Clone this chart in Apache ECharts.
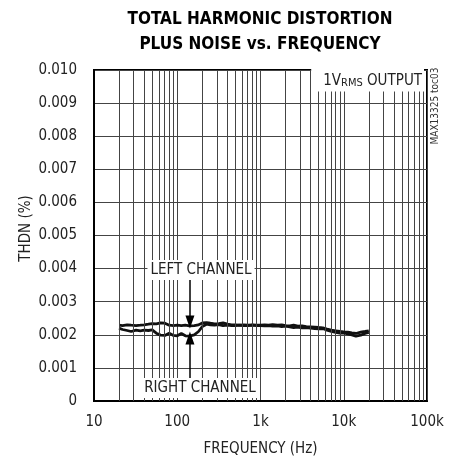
<!DOCTYPE html>
<html>
<head>
<meta charset="UTF-8">
<title>THD+N vs Frequency</title>
<script src="https://cdn.jsdelivr.net/npm/echarts@6/dist/echarts.min.js"></script>
<style>
  html, body { margin: 0; padding: 0; background: #fff; }
  #main { width: 456px; height: 464px; }
</style>
</head>
<body>
<div id="main"></div>
<script>
// frequency points (Hz)
var freqs = [20, 22, 25, 28, 32, 36, 40, 45, 50, 56, 63, 71, 80, 90, 100, 112, 125, 140, 160, 180,
  200, 225, 250, 280, 315, 355, 400, 450, 500, 560, 630, 710, 800, 900, 1000, 1120, 1250, 1400, 1600, 1800,
  2000, 2250, 2500, 2800, 3150, 3550, 4000, 4500, 5000, 5600, 6300, 7100, 8000, 9000, 10000, 11200, 12500, 14000, 16000, 18000, 20000];

// THD+N (%)
var leftChannel = [0.00229, 0.00228, 0.00230, 0.00229, 0.00228, 0.00229, 0.00230, 0.00232, 0.00234, 0.00233,
  0.00236, 0.00235, 0.00229, 0.00228, 0.00229, 0.00228, 0.00229, 0.00227, 0.00228, 0.00230,
  0.00236, 0.00237, 0.00235, 0.00233, 0.00234, 0.00236, 0.00232, 0.00230, 0.00230, 0.00229,
  0.00230, 0.00229, 0.00230, 0.00229, 0.00229, 0.00230, 0.00229, 0.00231, 0.00229, 0.00230,
  0.00228, 0.00227, 0.00229, 0.00226, 0.00227, 0.00225, 0.00224, 0.00223, 0.00222, 0.00221,
  0.00217, 0.00214, 0.00212, 0.00210, 0.00209, 0.00208, 0.00206, 0.00204, 0.00208, 0.00210, 0.00212];

var rightChannel = [0.00220, 0.00216, 0.00213, 0.00210, 0.00214, 0.00212, 0.00214, 0.00213, 0.00215, 0.00205,
  0.00199, 0.00198, 0.00205, 0.00198, 0.00197, 0.00204, 0.00197, 0.00196, 0.00200, 0.00210,
  0.00225, 0.00232, 0.00230, 0.00229, 0.00231, 0.00228, 0.00229, 0.00228, 0.00228, 0.00229,
  0.00228, 0.00228, 0.00229, 0.00228, 0.00228, 0.00227, 0.00228, 0.00226, 0.00227, 0.00225,
  0.00226, 0.00224, 0.00222, 0.00223, 0.00221, 0.00222, 0.00220, 0.00219, 0.00218, 0.00219,
  0.00214, 0.00210, 0.00207, 0.00205, 0.00206, 0.00203, 0.00200, 0.00196, 0.00199, 0.00204, 0.00207];

var xTickLabels = { 10: '10', 100: '100', 1000: '1k', 10000: '10k', 100000: '100k' };
var yTickLabels = ['0', '0.001', '0.002', '0.003', '0.004', '0.005', '0.006', '0.007', '0.008', '0.009', '0.010'];

// minor log grid lines 20..90, 200..900 ...
var minorLines = [20, 30, 40, 50, 60, 70, 80, 90,
  200, 300, 400, 500, 600, 700, 800, 900,
  2000, 3000, 4000, 5000, 6000, 7000, 8000, 9000,
  20000, 30000, 40000, 50000, 60000, 70000, 80000, 90000];

var FONT = "'Liberation Sans Narrow', 'DejaVu Sans Condensed', 'Roboto', sans-serif";

function pairs(xs, ys) {
  var out = [];
  for (var i = 0; i < xs.length; i++) out.push([xs[i], ys[i]]);
  return out;
}

var chart = echarts.init(document.getElementById('main'));
chart.setOption({
  animation: false,
  grid: {
    left: 94, right: 29, top: 70, bottom: 63,
    show: true, borderColor: '#000', borderWidth: 2
  },
  xAxis: {
    type: 'log',
    logBase: 10,
    min: 10,
    max: 100000,
    name: 'FREQUENCY (Hz)',
    nameLocation: 'middle',
    nameGap: 41,
    nameMoveOverlap: false,
    nameTextStyle: { fontFamily: FONT, fontSize: 15, color: '#222' },
    axisLine: { show: true, lineStyle: { color: '#000', width: 2 } },
    axisTick: { show: false },
    axisLabel: {
      fontFamily: FONT, fontSize: 15, color: '#222', margin: 14,
      formatter: function (v) { return xTickLabels[Math.round(v)] || ''; }
    },
    splitLine: { show: true, lineStyle: { color: '#444', width: 1 } }
  },
  yAxis: {
    type: 'value',
    min: 0,
    max: 0.01,
    interval: 0.001,
    name: 'THDN (%)',
    nameLocation: 'middle',
    nameGap: 60,
    nameMoveOverlap: false,
    nameTextStyle: { fontFamily: FONT, fontSize: 15, color: '#222', padding: [0, 0, 0, 14] },
    axisLine: { show: true, lineStyle: { color: '#000', width: 2 } },
    axisTick: { show: false },
    axisLabel: {
      fontFamily: FONT, fontSize: 15, color: '#222', margin: 17,
      formatter: function (v, i) { return yTickLabels[i]; }
    },
    splitLine: { show: true, lineStyle: { color: '#444', width: 1 } }
  },
  series: [{
    name: 'grid',
    type: 'line',
    data: [],
    silent: true,
    z: 1,
    markLine: {
      silent: true,
      symbol: 'none',
      label: { show: false },
      lineStyle: { color: '#444', width: 1, type: 'solid' },
      emphasis: { disabled: true },
      data: minorLines.map(function (f) { return { xAxis: f }; })
    }
  }, {
    name: 'LEFT CHANNEL',
    type: 'line',
    data: pairs(freqs, leftChannel),
    showSymbol: false,
    z: 3,
    lineStyle: { color: '#111', width: 2.8 }
  }, {
    name: 'RIGHT CHANNEL',
    type: 'line',
    data: pairs(freqs, rightChannel),
    showSymbol: false,
    z: 3,
    lineStyle: { color: '#111', width: 2.8 },
    markLine: {
      silent: true,
      symbol: ['none', 'triangle'],
      symbolSize: [9, 13],
      label: { show: false },
      lineStyle: { color: '#000', width: 1.5, type: 'solid' },
      emphasis: { disabled: true },
      data: [
        [{ coord: [142, 0.00372] }, { coord: [142, 0.00239] }],
        [{ coord: [142, 0.00069] }, { coord: [142, 0.00190] }]
      ]
    }
  }],
  graphic: [{
    type: 'text', z: 100,
    x: 260, y: 7,
    style: {
      text: 'TOTAL HARMONIC DISTORTION\nPLUS NOISE vs. FREQUENCY',
      fontFamily: FONT, fontSize: 17, fontWeight: 'bold', lineHeight: 25,
      fill: '#000', align: 'center', verticalAlign: 'top'
    }
  }, {
    type: 'text', z: 100,
    x: 201, y: 270,
    style: {
      text: 'LEFT CHANNEL', fontFamily: FONT, fontSize: 15, fill: '#222',
      align: 'center', verticalAlign: 'middle',
      backgroundColor: '#fff', padding: [3, 3, 2, 3]
    }
  }, {
    type: 'text', z: 100,
    x: 200, y: 388,
    style: {
      text: 'RIGHT CHANNEL', fontFamily: FONT, fontSize: 15, fill: '#222',
      align: 'center', verticalAlign: 'middle',
      backgroundColor: '#fff', padding: [3, 3, 2, 3]
    }
  }, {
    type: 'text', z: 100,
    x: 424, y: 80,
    style: {
      text: '{a|1V}{b|RMS}{a| OUTPUT}',
      align: 'right', verticalAlign: 'middle',
      backgroundColor: '#fff', padding: [5, 2, 3, 12],
      rich: {
        a: { fontFamily: FONT, fontSize: 15, fill: '#222', color: '#222' },
        b: { fontFamily: FONT, fontSize: 11, fill: '#222', color: '#222', verticalAlign: 'bottom' }
      }
    }
  }, {
    type: 'text', z: 100,
    x: 435, y: 106, rotation: Math.PI / 2,
    style: {
      text: 'MAX13325 toc03', fontFamily: FONT, fontSize: 10, fill: '#333',
      align: 'center', verticalAlign: 'middle'
    }
  }]
});
</script>
</body>
</html>
